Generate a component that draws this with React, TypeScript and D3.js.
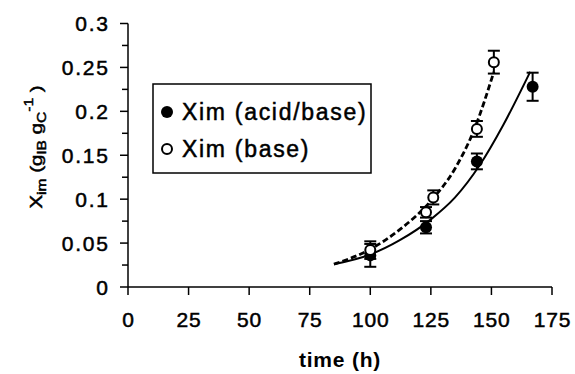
import * as d3 from "d3";

// measured points, acid/base (filled) and base (open)
const acidTime = [100, 123, 144, 167];
const acidXim = [0.036, 0.068, 0.143, 0.228];
const acidErr = [0.013, 0.007, 0.009, 0.016];
const baseTime = [100, 123, 126, 144, 151];
const baseXim = [0.042, 0.085, 0.102, 0.18, 0.256];
const baseErr = [0.01, 0.006, 0.008, 0.009, 0.013];

// fitted curves
const acidFitTime = [85, 100, 112, 125, 135, 145, 155, 166];
const acidFitXim = [0.026, 0.037, 0.053, 0.077, 0.102, 0.138, 0.185, 0.245];
const baseFitTime = [85, 100, 112, 125, 135, 143, 151];
const baseFitXim = [0.026, 0.043, 0.065, 0.098, 0.135, 0.18, 0.245];

const xTicks = [0, 25, 50, 75, 100, 125, 150, 175];
const yTicks = [0, 0.05, 0.1, 0.15, 0.2, 0.25, 0.3];
const yTickLabels = ["0", "0.05", "0.1", "0.15", "0.2", "0.25", "0.3"];
const yMinor = [0.025, 0.075, 0.125, 0.175, 0.225, 0.275];

const W = 575;
const H = 374;
const FONT = "'Liberation Sans', Arial, sans-serif";

export default function App() {
  const x = d3.scaleLinear().domain([0, 175]).range([128, 552]);
  const y = d3.scaleLinear().domain([0, 0.3]).range([287, 23.5]);

  const line = d3
    .line<[number, number]>()
    .x(d => x(d[0]))
    .y(d => y(d[1]))
    .curve(d3.curveMonotoneX);

  const acidFit = acidFitTime.map((t, i) => [t, acidFitXim[i]] as [number, number]);
  const baseFit = baseFitTime.map((t, i) => [t, baseFitXim[i]] as [number, number]);

  const errBar = (t: number, v: number, e: number, key: string) => (
    <g key={key} stroke="#000" strokeWidth={2}>
      <line x1={x(t)} x2={x(t)} y1={y(v - e)} y2={y(v + e)} />
      <line x1={x(t) - 6} x2={x(t) + 6} y1={y(v - e)} y2={y(v - e)} />
      <line x1={x(t) - 6} x2={x(t) + 6} y1={y(v + e)} y2={y(v + e)} />
    </g>
  );

  // heavier look of the scanned labels
  const heavy = { stroke: "#000", strokeWidth: 0.5 };

  return (
    <svg
      width={W}
      height={H}
      style={{ position: "absolute", left: 0, top: 0, background: "#fff" }}
      fontFamily={FONT}
    >
      {/* axes */}
      <line x1={x(0)} x2={x(175)} y1={y(0)} y2={y(0)} stroke="#000" strokeWidth={1.5} />
      <line x1={x(0)} x2={x(0)} y1={y(0.3)} y2={y(0)} stroke="#000" strokeWidth={1.5} />
      {xTicks.map(t => (
        <g key={"xt" + t}>
          <line x1={x(t)} x2={x(t)} y1={y(0)} y2={y(0) + 8} stroke="#000" strokeWidth={1.5} />
          <text x={x(t) + 0.4} y={327} textAnchor="middle" fontSize={21} letterSpacing={0.8} {...heavy}>
            {t}
          </text>
        </g>
      ))}
      {yTicks.map((v, i) => (
        <g key={"yt" + v}>
          <line x1={x(0) - 8} x2={x(0)} y1={y(v)} y2={y(v)} stroke="#000" strokeWidth={1.5} />
          <text x={109.8} y={y(v) + 7.5} textAnchor="end" fontSize={21} letterSpacing={1.8} {...heavy}>
            {yTickLabels[i]}
          </text>
        </g>
      ))}
      {yMinor.map(v => (
        <line key={"ym" + v} x1={x(0) - 6} x2={x(0)} y1={y(v)} y2={y(v)} stroke="#000" strokeWidth={1.5} />
      ))}

      {/* axis titles */}
      <text x={340} y={367} textAnchor="middle" fontSize={21} fontWeight="bold" letterSpacing={0.8}>
        time (h)
      </text>
      <text
        transform="translate(42,147) rotate(-90) scale(1.2,1)"
        textAnchor="middle"
        fontSize={17}
        {...heavy}
      >
        X<tspan fontSize={13} dy={4}>im</tspan>
        <tspan dy={-4}> (g</tspan>
        <tspan fontSize={13} dy={4}>IB</tspan>
        <tspan dy={-4}> g</tspan>
        <tspan fontSize={13} dy={4}>C</tspan>
        <tspan fontSize={13} dy={-13}>-1</tspan>
        <tspan dy={9}> )</tspan>
      </text>

      {/* fitted curves */}
      <path d={line(acidFit) ?? ""} fill="none" stroke="#000" strokeWidth={2} />
      <path d={line(baseFit) ?? ""} fill="none" stroke="#000" strokeWidth={2.8} strokeDasharray="6,3" />

      {/* error bars and points */}
      {baseTime.map((t, i) => errBar(t, baseXim[i], baseErr[i], "be" + i))}
      {acidTime.map((t, i) => errBar(t, acidXim[i], acidErr[i], "ae" + i))}
      {acidTime.map((t, i) => (
        <circle key={"ap" + i} cx={x(t)} cy={y(acidXim[i])} r={6} fill="#000" />
      ))}
      {baseTime.map((t, i) => (
        <circle key={"bp" + i} cx={x(t)} cy={y(baseXim[i])} r={5} fill="#fff" stroke="#000" strokeWidth={2} />
      ))}

      {/* legend */}
      <rect x={153} y={84} width={218} height={89} fill="#fff" stroke="#000" strokeWidth={1.5} />
      <circle cx={167} cy={112} r={6} fill="#000" />
      <text x={182} y={120} fontSize={23} letterSpacing={1.7} {...heavy}>
        Xim (acid/base)
      </text>
      <circle cx={167} cy={149} r={5} fill="#fff" stroke="#000" strokeWidth={2} />
      <text x={182} y={157} fontSize={23} letterSpacing={1.7} {...heavy}>
        Xim (base)
      </text>
    </svg>
  );
}
